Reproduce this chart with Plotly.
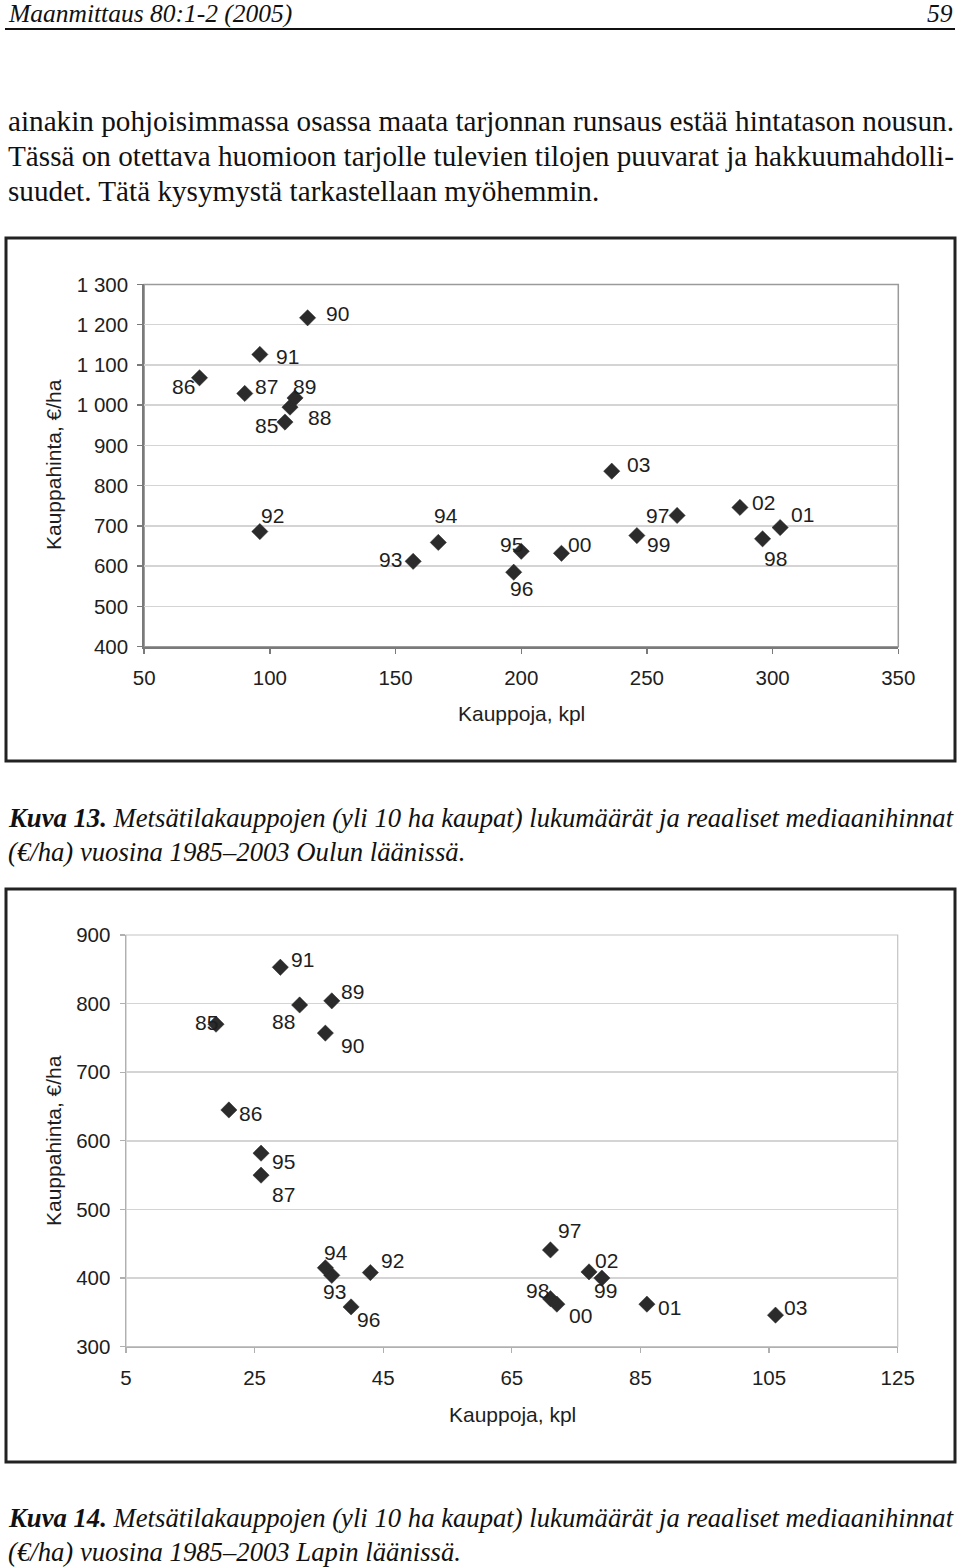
import plotly.graph_objects as go

# ---------------- data ----------------
years = ["85", "86", "87", "88", "89", "90", "91", "92", "93", "94",
         "95", "96", "97", "98", "99", "00", "01", "02", "03"]

# Kuva 13 – Oulun lääni
oulu_kauppoja = [106, 72, 90, 108, 110, 115, 96, 96, 157, 167,
                 200, 197, 262, 296, 246, 216, 303, 287, 236]
oulu_hinta = [958, 1068, 1029, 995, 1018, 1217, 1126, 686, 612, 659,
              637, 585, 726, 668, 676, 632, 696, 746, 836]

# Kuva 14 – Lapin lääni
lappi_kauppoja = [19, 21, 26, 32, 37, 36, 29, 43, 37, 36,
                  26, 40, 71, 71, 79, 72, 86, 77, 106]
lappi_hinta = [770, 645, 550, 798, 804, 757, 853, 408, 404, 415,
               582, 358, 441, 370, 400, 362, 362, 409, 346]

oulu_yticks = [400, 500, 600, 700, 800, 900, 1000, 1100, 1200, 1300]
oulu_yticktext = ["400", "500", "600", "700", "800", "900", "1 000", "1 100", "1 200", "1 300"]
oulu_xticks = [50, 100, 150, 200, 250, 300, 350]
lappi_yticks = [300, 400, 500, 600, 700, 800, 900]
lappi_xticks = [5, 25, 45, 65, 85, 105, 125]

x_title = "Kauppoja, kpl"
y_title = "Kauppahinta, €/ha"

header_left = "Maanmittaus 80:1-2 (2005)"
header_right = "59"
body_lines = [
    "ainakin pohjoisimmassa osassa maata tarjonnan runsaus estää hintatason nousun.",
    "Tässä on otettava huomioon tarjolle tulevien tilojen puuvarat ja hakkuumahdolli-",
    "suudet. Tätä kysymystä tarkastellaan myöhemmin.",
]
caption13 = ["Kuva 13.", "Metsätilakauppojen (yli 10 ha kaupat) lukumäärät ja reaaliset mediaanihinnat",
             "(€/ha) vuosina 1985–2003 Oulun läänissä."]
caption14 = ["Kuva 14.", "Metsätilakauppojen (yli 10 ha kaupat) lukumäärät ja reaaliset mediaanihinnat",
             "(€/ha) vuosina 1985–2003 Lapin läänissä."]

# ---------------- styles ----------------
W, H = 960, 1568
SANS = "Liberation Sans, Arial, sans-serif"
SERIF = "Liberation Serif, Times New Roman, serif"
MARK = "#2b2b2b"
GRID = "#d4d4d4"
INK = "#1e1e1e"

# label offsets (px) relative to each marker: (xshift, yshift)
oulu_off = {"85": (-18, -3), "86": (-16, -9), "87": (22, 7), "88": (30, -10), "89": (9, 11),
            "90": (30, 4), "91": (28, -2), "92": (13, 16), "93": (-23, 2), "94": (8, 27),
            "95": (-10, 7), "96": (8, -16), "97": (-20, 0), "98": (13, -20), "99": (22, -9),
            "00": (18, 9), "01": (22, 13), "02": (24, 5), "03": (27, 7)}
lappi_off = {"85": (-10, 2), "86": (22, -4), "87": (22, -19), "88": (-16, -17), "89": (21, 9),
             "90": (27, -12), "91": (22, 8), "92": (22, 12), "93": (3, -16), "94": (11, 15),
             "95": (22, -8), "96": (17, -13), "97": (19, 19), "98": (-13, 8), "99": (4, -12),
             "00": (24, -11), "01": (23, -3), "02": (17, 11), "03": (20, 8)}


def py(ypix):
    return 1 - ypix / H


def px(xpix):
    return xpix / W


def txt(x, y, text, font, xanchor="center", yanchor="middle", angle=0):
    return dict(x=px(x), y=py(y), xref="paper", yref="paper", text=text, textangle=angle,
                xanchor=xanchor, yanchor=yanchor, showarrow=False, font=font)


fig = go.Figure()

mk = dict(symbol="diamond", size=12.5, color=MARK, line=dict(color=MARK, width=0.5))
fig.add_trace(go.Scatter(x=oulu_kauppoja, y=oulu_hinta, mode="markers", xaxis="x", yaxis="y",
                         marker=mk, hoverinfo="skip", showlegend=False))
fig.add_trace(go.Scatter(x=lappi_kauppoja, y=lappi_hinta, mode="markers", xaxis="x2", yaxis="y2",
                         marker=mk, hoverinfo="skip", showlegend=False))

annotations = []
lab_font = dict(family=SANS, size=21, color=INK)
for yr, xv, yv in zip(years, oulu_kauppoja, oulu_hinta):
    dx, dy = oulu_off[yr]
    annotations.append(dict(x=xv, y=yv, xref="x", yref="y", text=yr, showarrow=False,
                            xanchor="center", yanchor="middle",
                            xshift=dx, yshift=dy, font=lab_font))
for yr, xv, yv in zip(years, lappi_kauppoja, lappi_hinta):
    dx, dy = lappi_off[yr]
    annotations.append(dict(x=xv, y=yv, xref="x2", yref="y2", text=yr, showarrow=False,
                            xanchor="center", yanchor="middle",
                            xshift=dx, yshift=dy, font=lab_font))

# axis titles
tfont = dict(family=SANS, size=21, color=INK)
annotations += [
    txt(53, 465, y_title, tfont, angle=-90),
    txt(521, 714, x_title, tfont),
    txt(53, 1141, y_title, tfont, angle=-90),
    txt(512, 1414, x_title, tfont),
]

# page text
hfont = dict(family=SERIF, size=25.5, color="#111111")
annotations.append(txt(6, 13.5, "<i>" + header_left + "</i>", hfont, xanchor="left"))
annotations.append(txt(955, 13.5, "<i>" + header_right + "</i>", hfont, xanchor="right"))
pfont = dict(family=SERIF, size=29.2, color="#111111")
for i, line in enumerate(body_lines):
    annotations.append(txt(6, 121 + 35 * i, line, pfont, xanchor="left"))

cfont = dict(family=SERIF, size=26.7, color="#111111")
for cap, y0 in ((caption13, 818), (caption14, 1518)):
    annotations.append(txt(6, y0, "<b><i>" + cap[0] + "</i></b> <i>" + cap[1] + "</i>",
                           cfont, xanchor="left"))
    annotations.append(txt(6, y0 + 34, "<i>" + cap[2] + "</i>", cfont, xanchor="left"))

shapes = [
    # header rule
    dict(type="line", xref="paper", yref="paper", x0=px(5), x1=px(955), y0=py(29), y1=py(29),
         line=dict(color="#111111", width=2)),
    # outer chart frames
    dict(type="rect", xref="paper", yref="paper", x0=px(6), x1=px(955), y0=py(238), y1=py(761),
         line=dict(color="#222222", width=3)),
    dict(type="rect", xref="paper", yref="paper", x0=px(6), x1=px(955), y0=py(889), y1=py(1462),
         line=dict(color="#222222", width=3)),
    # plot-area frames (top/right)
    dict(type="rect", xref="x domain", yref="y domain", x0=0, x1=1, y0=0, y1=1,
         line=dict(color="#9a9a9a", width=1.5), layer="below"),
    dict(type="rect", xref="x2 domain", yref="y2 domain", x0=0, x1=1, y0=0, y1=1,
         line=dict(color="#c4c4c4", width=1.2), layer="below"),
]

tickfont = dict(family=SANS, size=20.5, color=INK)
common = dict(zeroline=False, showline=True, ticks="outside", ticklen=5, tickfont=tickfont,
              fixedrange=True, automargin=False)
fig.update_layout(
    width=W, height=H, margin=dict(l=0, r=0, t=0, b=0, pad=0, autoexpand=False),
    paper_bgcolor="white", plot_bgcolor="white",
    showlegend=False,
    xaxis=dict(domain=[px(144.2), px(898.3)], range=[50, 350], tickvals=oulu_xticks,
               showgrid=False, linecolor="#7a7a7a", linewidth=2,
               tickcolor="#7a7a7a", tickwidth=1.5, ticklabelstandoff=7, anchor="y", **common),
    yaxis=dict(domain=[py(646.7), py(284.4)], range=[400, 1300], tickvals=oulu_yticks,
               ticktext=oulu_yticktext, showgrid=True, gridcolor=GRID, gridwidth=1.5,
               linecolor="#7a7a7a", linewidth=2,
               tickcolor="#7a7a7a", tickwidth=1.5, ticklabelstandoff=5, anchor="x", **common),
    xaxis2=dict(domain=[px(126), px(897.7)], range=[5, 125], tickvals=lappi_xticks,
                showgrid=False, linecolor="#b0b0b0", linewidth=1.5,
                tickcolor="#b0b0b0", tickwidth=1.2, ticklabelstandoff=7, anchor="y2", **common),
    yaxis2=dict(domain=[py(1346.7), py(935)], range=[300, 900], tickvals=lappi_yticks,
                showgrid=True, gridcolor=GRID, gridwidth=1.5,
                linecolor="#b0b0b0", linewidth=1.5,
                tickcolor="#b0b0b0", tickwidth=1.2, ticklabelstandoff=5, anchor="x2", **common),
    annotations=annotations,
    shapes=shapes,
)

fig.write_html("out.html", config={"displayModeBar": False, "staticPlot": True},
               post_script="document.body.style.margin='0';document.body.style.padding='0';")
